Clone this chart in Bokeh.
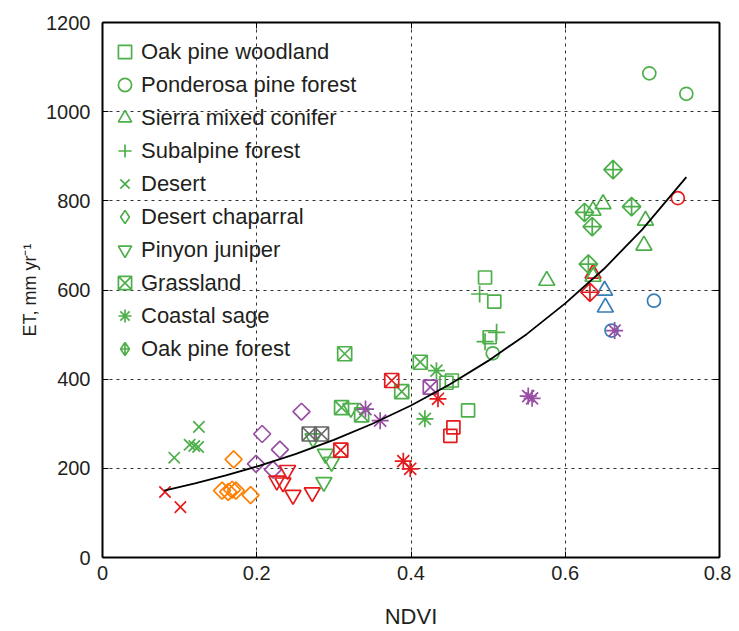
import math
from bokeh.plotting import figure
from bokeh.models import FixedTicker, LinearAxis, Range1d, ColumnDataSource
from bokeh.embed import file_html
from bokeh.resources import INLINE

PALETTE = {"G": "#4DAF4A", "R": "#E41A1C", "B": "#377EB8",
           "P": "#984EA3", "O": "#FF7F00", "K": "#666666"}
FONT = "Liberation Sans"
TXT = "#231F20"

# ---- data ----
oak_woodland_x = [0.496, 0.508, 0.502, 0.446, 0.453, 0.474, 0.455, 0.451]
oak_woodland_y = [628, 574, 494, 392, 397, 330, 292, 273]
oak_woodland_c = ["G", "G", "G", "G", "G", "G", "R", "R"]

ponderosa_x = [0.709, 0.757, 0.506, 0.746, 0.715, 0.660]
ponderosa_y = [1086, 1040, 458, 806, 576, 509]
ponderosa_c = ["G", "G", "G", "R", "B", "B"]

sierra_x = [0.576, 0.649, 0.636, 0.704, 0.702, 0.636, 0.636, 0.651, 0.652]
sierra_y = [621, 793, 778, 756, 700, 637, 630, 599, 561]
sierra_c = ["G", "G", "G", "G", "G", "R", "G", "B", "B"]

subalpine_x = [0.489, 0.511, 0.496]
subalpine_y = [591, 505, 484]
subalpine_c = ["G", "G", "G"]

desert_x = [0.125, 0.113, 0.119, 0.124, 0.093, 0.081, 0.101]
desert_y = [293, 253, 250, 248, 224, 147, 113]
desert_c = ["G", "G", "G", "G", "G", "R", "R"]

chaparral_x = [0.170, 0.155, 0.163, 0.168, 0.173, 0.192, 0.258, 0.207, 0.230, 0.199, 0.221]
chaparral_y = [220, 150, 147, 152, 150, 140, 327, 277, 242, 210, 197]
chaparral_c = ["O", "O", "O", "O", "O", "O", "P", "P", "P", "P", "P"]

pinyon_x = [0.226, 0.240, 0.234, 0.247, 0.272, 0.289, 0.297, 0.287, 0.273, 0.322]
pinyon_y = [172, 196, 168, 140, 146, 232, 214, 169, 267, 335]
pinyon_c = ["R", "R", "R", "R", "R", "G", "G", "G", "G", "G"]

grassland_x = [0.314, 0.412, 0.388, 0.310, 0.336, 0.375, 0.309, 0.425, 0.268, 0.284]
grassland_y = [457, 438, 372, 336, 320, 397, 241, 382, 277, 277]
grassland_c = ["G", "G", "G", "G", "G", "R", "R", "P", "K", "K"]

coastal_x = [0.433, 0.418, 0.435, 0.390, 0.399, 0.341, 0.360, 0.552, 0.557, 0.664]
coastal_y = [419, 311, 356, 216, 199, 333, 307, 362, 357, 509]
coastal_c = ["G", "G", "R", "R", "R", "P", "P", "P", "P", "P"]

oak_forest_x = [0.662, 0.625, 0.686, 0.635, 0.630, 0.632]
oak_forest_y = [870, 774, 787, 742, 658, 595]
oak_forest_c = ["G", "G", "G", "G", "G", "R"]

# fitted curve
curve_x = [0.08, 0.12, 0.16, 0.20, 0.25, 0.30, 0.35, 0.40, 0.45, 0.50, 0.55, 0.60, 0.65, 0.70, 0.757]
curve_y = [150, 166, 184, 204, 232, 264, 300, 341, 388, 441, 501, 570, 647, 736, 853]

x_ticks = [0, 0.2, 0.4, 0.6, 0.8]
x_tick_labels = ["0", "0.2", "0.4", "0.6", "0.8"]
y_ticks = [0, 200, 400, 600, 800, 1000, 1200]

D = math.pi / 4
# (label, data marker, rotation, size, legend marker, xs, ys, colors)
groups = [
    ("Oak pine woodland", "square", 0, 13, "square", oak_woodland_x, oak_woodland_y, oak_woodland_c),
    ("Ponderosa pine forest", "circle", 0, 13, "circle", ponderosa_x, ponderosa_y, ponderosa_c),
    ("Sierra mixed conifer", "triangle", 0, 16, "triangle", sierra_x, sierra_y, sierra_c),
    ("Subalpine forest", "cross", 0, 17, "cross", subalpine_x, subalpine_y, subalpine_c),
    ("Desert", "x", 0, 16, "x", desert_x, desert_y, desert_c),
    ("Desert chaparral", "square", D, 12, "diamond", chaparral_x, chaparral_y, chaparral_c),
    ("Pinyon juniper", "inverted_triangle", 0, 16, "inverted_triangle", pinyon_x, pinyon_y, pinyon_c),
    ("Grassland", "square_x", 0, 14, "square_x", grassland_x, grassland_y, grassland_c),
    ("Coastal sage", "asterisk", 0, 17, "asterisk", coastal_x, coastal_y, coastal_c),
    ("Oak pine forest", "square_x", D, 13, "diamond_cross", oak_forest_x, oak_forest_y, oak_forest_c),
]

p = figure(width=731, height=631, output_backend="svg", toolbar_location=None,
           x_range=Range1d(0, 0.8), y_range=Range1d(0, 1200),
           min_border_left=102, min_border_right=12, min_border_top=22,
           min_border_bottom=40, x_axis_label="NDVI", y_axis_label="ET, mm yr\u207b\u00b9")
p.outline_line_color = None
p.background_fill_color = "white"

p.xgrid.ticker = FixedTicker(ticks=[0.2, 0.4, 0.6])
p.ygrid.ticker = FixedTicker(ticks=[200, 400, 600, 800, 1000])
for g in (p.xgrid, p.ygrid):
    g.grid_line_color = "#333333"
    g.grid_line_dash = "3 4"
    g.grid_line_width = 1

# data marks
for label, marker, ang, sz, lmark, xs, ys, cs in groups:
    src = ColumnDataSource(dict(x=xs, y=ys, color=[PALETTE[c] for c in cs]))
    p.scatter("x", "y", source=src, marker=marker, angle=ang, size=sz,
              line_color="color", fill_color=None, line_width=1.7)

p.line(curve_x, curve_y, line_color="black", line_width=1.8)

# legend entries (all green); renderers hold no visible point
nan = float("nan")
for label, marker, ang, sz, lmark, xs, ys, cs in groups:
    p.scatter(x=[nan], y=[nan], marker=lmark, size=sz,
              line_color=PALETTE["G"], fill_color=None, line_width=1.7,
              legend_label=label)

lg = p.legend[0]
lg.location = (6, 192)
lg.border_line_color = None
lg.background_fill_alpha = 0
lg.margin = 0
lg.padding = 0
lg.spacing = 0
lg.label_height = 33
lg.glyph_height = 33
lg.glyph_width = 33
lg.label_standoff = 0
lg.label_text_font = FONT
lg.label_text_font_size = "22px"
lg.label_text_color = TXT

# axes
for ax in (p.xaxis[0], p.yaxis[0]):
    ax.axis_line_width = 2
    ax.axis_line_color = "black"
    ax.major_tick_in = 6
    ax.major_tick_out = 0
    ax.minor_tick_line_color = None
    ax.major_tick_line_color = "black"
    ax.major_tick_line_width = 1
    ax.major_label_text_font = FONT
    ax.major_label_text_font_size = "20px"
    ax.major_label_text_color = TXT
    ax.axis_label_text_font = FONT
    ax.axis_label_text_font_style = "normal"
    ax.axis_label_text_color = TXT

p.xaxis[0].ticker = FixedTicker(ticks=x_ticks)
p.xaxis[0].major_label_overrides = {t: s for t, s in zip(x_ticks, x_tick_labels)}
p.xaxis[0].major_label_standoff = 8
p.xaxis[0].axis_label_standoff = 21
p.xaxis[0].axis_label_text_font_size = "22px"
p.yaxis[0].ticker = FixedTicker(ticks=y_ticks)
p.yaxis[0].major_label_standoff = 12
p.yaxis[0].axis_label_standoff = 3
p.yaxis[0].axis_label_text_font_size = "18px"

for side, tk in (("right", y_ticks), ("above", x_ticks)):
    ax = LinearAxis(ticker=FixedTicker(ticks=tk))
    ax.axis_line_width = 2
    ax.axis_line_color = "black"
    ax.major_tick_in = 6
    ax.major_tick_out = 0
    ax.minor_tick_line_color = None
    ax.major_label_text_font_size = "1px"
    ax.major_label_text_color = None
    ax.major_label_standoff = 0
    p.add_layout(ax, side)

open("out.html", "w").write(file_html(p, INLINE))
